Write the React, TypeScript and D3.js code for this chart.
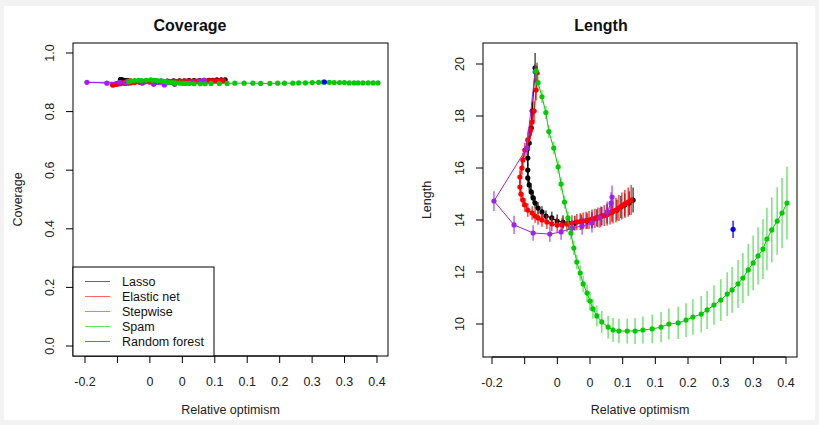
import React, { useEffect, useRef } from "react";
import * as d3 from "d3";

// method names + colours (legend order)
const methods = ["Lasso", "Elastic net", "Stepwise", "Spam", "Random forest"];
const colors = ["#000000", "#ff0000", "#a020f0", "#00cc00", "#0000ff"];

// Lasso
const lassoX = [-0.112, -0.118, -0.12, -0.124, -0.127, -0.127, -0.127, -0.124, -0.12, -0.116, -0.112, -0.106, -0.098, -0.09, -0.078, -0.067, -0.055, -0.043, -0.031, -0.018, -0.006, 0.004, 0.014, 0.024, 0.035, 0.045, 0.055, 0.063, 0.071, 0.08, 0.088];
const lassoLength = [19.85, 18.19, 17.54, 16.96, 16.38, 15.92, 15.62, 15.35, 15.08, 14.85, 14.65, 14.46, 14.31, 14.15, 14.08, 13.96, 13.92, 13.88, 13.88, 13.92, 13.96, 14.0, 14.08, 14.15, 14.23, 14.31, 14.38, 14.5, 14.58, 14.65, 14.77];
const lassoErr = [0.57, 0.35, 0.3, 0.3, 0.28, 0.25, 0.25, 0.22, 0.22, 0.22, 0.22, 0.22, 0.22, 0.22, 0.24, 0.25, 0.26, 0.27, 0.28, 0.29, 0.3, 0.32, 0.33, 0.35, 0.36, 0.38, 0.4, 0.42, 0.44, 0.46, 0.48];
const lassoCov = [0.905, 0.906, 0.907, 0.908, 0.909, 0.909, 0.908, 0.907, 0.906, 0.905, 0.905, 0.904, 0.904, 0.903, 0.903, 0.903, 0.904, 0.904, 0.904, 0.905, 0.905, 0.905, 0.906, 0.906, 0.906, 0.907, 0.907, 0.907, 0.908, 0.908, 0.908];

// Elastic net
const enetX = [-0.108, -0.11, -0.114, -0.118, -0.122, -0.127, -0.133, -0.137, -0.139, -0.143, -0.143, -0.141, -0.137, -0.133, -0.127, -0.118, -0.112, -0.106, -0.098, -0.088, -0.078, -0.067, -0.057, -0.047, -0.037, -0.027, -0.02, -0.014, -0.008, -0.002, 0.004, 0.01, 0.016, 0.022, 0.029, 0.035, 0.041, 0.047, 0.053, 0.059, 0.065, 0.071, 0.078, 0.084];
const enetLength = [19.65, 19.0, 18.19, 17.77, 17.42, 17.08, 16.69, 16.31, 16.0, 15.65, 15.27, 15.0, 14.77, 14.58, 14.38, 14.27, 14.15, 14.08, 14.0, 13.92, 13.85, 13.81, 13.81, 13.85, 13.88, 13.92, 13.94, 13.96, 13.98, 14.0, 14.04, 14.06, 14.1, 14.13, 14.17, 14.21, 14.27, 14.33, 14.38, 14.46, 14.54, 14.62, 14.69, 14.77];
const enetErr = [0.4, 0.4, 0.38, 0.35, 0.3, 0.3, 0.28, 0.28, 0.26, 0.26, 0.26, 0.26, 0.26, 0.26, 0.26, 0.26, 0.26, 0.26, 0.26, 0.27, 0.28, 0.28, 0.29, 0.3, 0.3, 0.31, 0.32, 0.33, 0.34, 0.35, 0.36, 0.37, 0.38, 0.39, 0.4, 0.42, 0.44, 0.46, 0.48, 0.5, 0.52, 0.54, 0.56, 0.58];
const enetCov = [0.904, 0.903, 0.902, 0.9, 0.899, 0.898, 0.896, 0.894, 0.893, 0.892, 0.891, 0.892, 0.893, 0.894, 0.895, 0.896, 0.897, 0.898, 0.899, 0.9, 0.901, 0.901, 0.902, 0.902, 0.902, 0.903, 0.903, 0.903, 0.903, 0.903, 0.904, 0.904, 0.904, 0.904, 0.904, 0.904, 0.905, 0.905, 0.905, 0.905, 0.905, 0.905, 0.906, 0.906];

// Stepwise
const stepX = [-0.112, -0.129, -0.196, -0.155, -0.116, -0.082, -0.059, -0.037, -0.016, 0.004, 0.02, 0.035, 0.043, 0.045];
const stepLength = [19.7, 16.77, 14.73, 13.81, 13.5, 13.46, 13.54, 13.69, 13.77, 13.88, 14.08, 14.31, 14.65, 14.88];
const stepErr = [0.3, 0.3, 0.38, 0.35, 0.3, 0.3, 0.3, 0.32, 0.34, 0.36, 0.38, 0.4, 0.42, 0.45];
const stepCov = [0.903, 0.9, 0.9, 0.897, 0.898, 0.897, 0.893, 0.891, 0.893, 0.896, 0.9, 0.904, 0.906, 0.907];

// Spam
const spamX = [-0.11, -0.106, -0.098, -0.09, -0.084, -0.074, -0.065, -0.059, -0.052, -0.045, -0.039, -0.033, -0.027, -0.02, -0.014, -0.006, 0.0, 0.006, 0.014, 0.024, 0.037, 0.047, 0.059, 0.076, 0.092, 0.108, 0.127, 0.145, 0.161, 0.18, 0.196, 0.21, 0.227, 0.239, 0.253, 0.267, 0.28, 0.29, 0.302, 0.312, 0.323, 0.333, 0.343, 0.353, 0.361, 0.371, 0.382, 0.392, 0.402];
const spamLength = [19.74, 19.28, 18.74, 18.13, 17.4, 16.77, 16.04, 15.38, 14.69, 14.08, 13.5, 12.92, 12.38, 11.96, 11.54, 11.19, 10.88, 10.58, 10.31, 10.08, 9.88, 9.77, 9.73, 9.73, 9.73, 9.77, 9.81, 9.88, 10.0, 10.04, 10.15, 10.27, 10.38, 10.54, 10.73, 10.92, 11.15, 11.31, 11.54, 11.77, 12.08, 12.35, 12.62, 12.88, 13.27, 13.62, 13.96, 14.27, 14.65];
const spamErr = [0.3, 0.25, 0.25, 0.25, 0.25, 0.25, 0.25, 0.25, 0.25, 0.25, 0.25, 0.27, 0.28, 0.3, 0.32, 0.34, 0.36, 0.38, 0.4, 0.42, 0.44, 0.46, 0.47, 0.48, 0.5, 0.52, 0.55, 0.58, 0.6, 0.62, 0.65, 0.68, 0.7, 0.73, 0.76, 0.8, 0.84, 0.88, 0.92, 0.96, 1.0, 1.05, 1.1, 1.15, 1.2, 1.25, 1.3, 1.35, 1.4];
const spamCov = [0.902, 0.905, 0.906, 0.907, 0.906, 0.907, 0.908, 0.907, 0.906, 0.905, 0.903, 0.902, 0.9, 0.899, 0.898, 0.897, 0.897, 0.896, 0.896, 0.895, 0.895, 0.895, 0.896, 0.896, 0.896, 0.897, 0.897, 0.897, 0.896, 0.896, 0.897, 0.897, 0.897, 0.898, 0.898, 0.899, 0.9, 0.901, 0.9, 0.899, 0.899, 0.899, 0.898, 0.898, 0.898, 0.898, 0.898, 0.898, 0.898];

// Random forest
const rfX = [0.292];
const rfLength = [13.64];
const rfErr = [0.33];
const rfCov = [0.901];

// axes
const xTickValues = [-0.2, -0.1333, -0.0667, 0, 0.0667, 0.1333, 0.2, 0.2667, 0.3333, 0.4];
const xTickLabels = ["-0.2", "", "0", "0", "0.1", "0.1", "0.2", "0.3", "0.3", "0.4"];
const covTicks = [0, 0.2, 0.4, 0.6, 0.8, 1.0];
const lenTicks = [10, 12, 14, 16, 18, 20];

const FONT = "'Liberation Sans', Arial, Helvetica, sans-serif";

const series = [
    { name: methods[0], color: colors[0], x: lassoX, cov: lassoCov, len: lassoLength, err: lassoErr, barOpacity: 0.65 },
    { name: methods[1], color: colors[1], x: enetX, cov: enetCov, len: enetLength, err: enetErr, barOpacity: 0.7 },
    { name: methods[2], color: colors[2], x: stepX, cov: stepCov, len: stepLength, err: stepErr, barOpacity: 0.65 },
    { name: methods[3], color: colors[3], x: spamX, cov: spamCov, len: spamLength, err: spamErr, barOpacity: 0.5 },
    { name: methods[4], color: colors[4], x: rfX, cov: rfCov, len: rfLength, err: rfErr, barOpacity: 0.8 },
];

const drawPanel = (svg, p) => {
    const x = d3.scaleLinear().domain([-0.2, 0.4]).range(p.xRange);
    const y = d3.scaleLinear().domain(p.yDomain).range(p.yRange);
    const g = svg.append("g");

    // series: error bars, line, points
    series.forEach((s) => {
        const vals = p.key === "cov" ? s.cov : s.len;
        const pts = s.x.map((xv, i) => ({ x: xv, y: vals[i], e: s.err[i] }));
        if (p.key === "len") {
            g.append("g")
                .selectAll("line")
                .data(pts)
                .join("line")
                .attr("x1", (d) => x(d.x))
                .attr("x2", (d) => x(d.x))
                .attr("y1", (d) => y(d.y - d.e))
                .attr("y2", (d) => y(d.y + d.e))
                .attr("stroke", s.color)
                .attr("stroke-opacity", s.barOpacity)
                .attr("stroke-width", 1.6);
        }
        const line = d3
            .line()
            .x((d) => x(d.x))
            .y((d) => y(d.y));
        g.append("path")
            .datum(pts)
            .attr("d", line)
            .attr("fill", "none")
            .attr("stroke", s.color)
            .attr("stroke-width", 1);
        g.append("g")
            .selectAll("circle")
            .data(pts)
            .join("circle")
            .attr("cx", (d) => x(d.x))
            .attr("cy", (d) => y(d.y))
            .attr("r", 2.6)
            .attr("fill", s.color);
    });

    // box
    svg.append("rect")
        .attr("x", p.box[0])
        .attr("y", p.box[1])
        .attr("width", p.box[2] - p.box[0])
        .attr("height", p.box[3] - p.box[1])
        .attr("fill", "none")
        .attr("stroke", "#000")
        .attr("stroke-width", 1);

    // x axis
    const xa = svg.append("g").attr("font-family", FONT).attr("font-size", 12.5);
    xa.append("line")
        .attr("x1", x(xTickValues[0]))
        .attr("x2", x(xTickValues[xTickValues.length - 1]))
        .attr("y1", p.box[3])
        .attr("y2", p.box[3])
        .attr("stroke", "#000");
    xTickValues.forEach((t, i) => {
        xa.append("line")
            .attr("x1", x(t))
            .attr("x2", x(t))
            .attr("y1", p.box[3])
            .attr("y2", p.box[3] + 7)
            .attr("stroke", "#000");
        xa.append("text")
            .attr("x", x(t))
            .attr("y", p.box[3] + 30)
            .attr("text-anchor", "middle")
            .attr("fill", "#222")
            .text(xTickLabels[i]);
    });
    xa.append("text")
        .attr("x", (p.box[0] + p.box[2]) / 2)
        .attr("y", 414)
        .attr("text-anchor", "middle")
        .attr("fill", "#222")
        .text("Relative optimism");

    // y axis (labels parallel to axis, as in R)
    const ya = svg.append("g").attr("font-family", FONT).attr("font-size", 12.5);
    p.yTicks.forEach((t) => {
        ya.append("line")
            .attr("x1", p.box[0] - 7)
            .attr("x2", p.box[0])
            .attr("y1", y(t))
            .attr("y2", y(t))
            .attr("stroke", "#000");
        ya.append("text")
            .attr("transform", `translate(${p.box[0] - 23},${y(t)}) rotate(-90)`)
            .attr("text-anchor", "middle")
            .attr("dy", "0.35em")
            .attr("fill", "#222")
            .text(p.yFormat(t));
    });
    ya.append("text")
        .attr("transform", `translate(${p.yLabelX},${(p.box[1] + p.box[3]) / 2}) rotate(-90)`)
        .attr("text-anchor", "middle")
        .attr("dy", "0.35em")
        .attr("fill", "#222")
        .text(p.title);

    svg.append("text")
        .attr("x", p.titleX)
        .attr("y", 31)
        .attr("text-anchor", "middle")
        .attr("font-family", FONT)
        .attr("font-size", 16)
        .attr("font-weight", "bold")
        .attr("fill", "#111")
        .text(p.title);
};

export default function App() {
    const ref = useRef(null);

    useEffect(() => {
        document.body.style.margin = "0";
        const svg = d3.select(ref.current);
        svg.selectAll("*").remove();

        svg.append("rect").attr("width", 819).attr("height", 425).attr("fill", "#f3f3f3");
        svg.append("rect").attr("x", 4).attr("y", 6).attr("width", 811).attr("height", 414).attr("fill", "#fff");

        drawPanel(svg, {
            key: "cov",
            title: "Coverage",
            box: [73, 43, 388, 356],
            xRange: [85, 377],
            yDomain: [0, 1],
            yRange: [346, 53],
            yTicks: covTicks,
            yFormat: d3.format(".1f"),
            yLabelX: 18,
            titleX: 190,
        });
        drawPanel(svg, {
            key: "len",
            title: "Length",
            box: [483, 43, 797, 357],
            xRange: [492, 786],
            yDomain: [10, 20],
            yRange: [324, 64],
            yTicks: lenTicks,
            yFormat: d3.format("d"),
            yLabelX: 427,
            titleX: 601,
        });

        // legend in the coverage panel
        const lg = svg.append("g").attr("font-family", FONT).attr("font-size", 12.5);
        lg.append("rect")
            .attr("x", 73)
            .attr("y", 267)
            .attr("width", 141)
            .attr("height", 89)
            .attr("fill", "#fff")
            .attr("stroke", "#000");
        methods.forEach((m, i) => {
            const yy = 281.5 + i * 15;
            lg.append("line")
                .attr("x1", 85)
                .attr("x2", 110)
                .attr("y1", yy)
                .attr("y2", yy)
                .attr("stroke", colors[i])
                .attr("stroke-opacity", 0.6);
            lg.append("text")
                .attr("x", 122)
                .attr("y", yy)
                .attr("dy", "0.35em")
                .attr("fill", "#111")
                .text(m);
        });
    }, []);

    return <svg ref={ref} width={819} height={425} style={{ display: "block" }} />;
}
